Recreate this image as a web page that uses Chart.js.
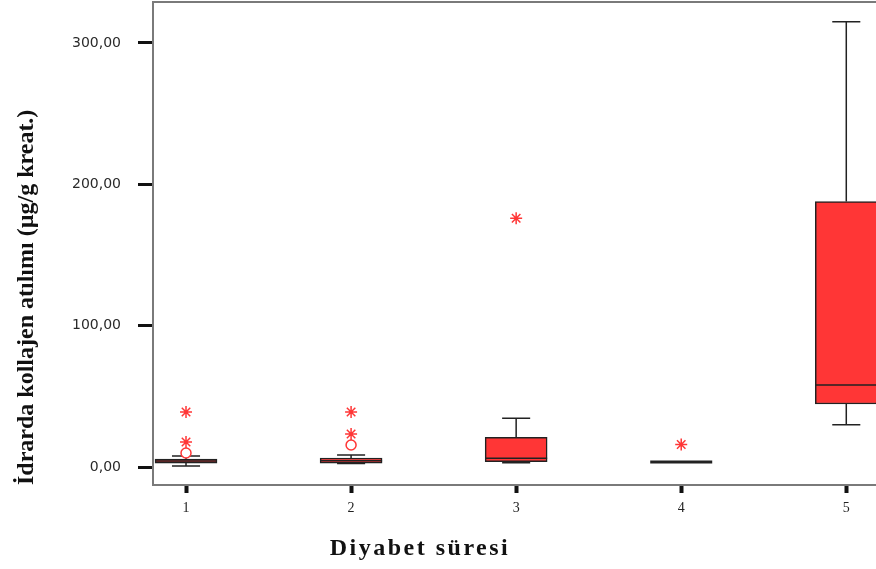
<!DOCTYPE html>
<html lang="tr">
<head>
    <meta charset="UTF-8">
    <title>Diyabet süresi - İdrarda kollajen atılımı</title>
    <script src="https://cdn.jsdelivr.net/npm/chart.js"></script>
    <style>
        body { margin: 0; background: #fff; }
        #wrap { width: 876px; height: 569px; }
    </style>
</head>
<body>
<div id="wrap"><canvas id="boxChart" width="876" height="569"></canvas></div>
<script>
    // Diyabet süresi grupları
    var categories = [1, 2, 3, 4, 5];
    // kutu grafiği değerleri (µg/g kreat.)
    var whiskerLow  = [0.7, 2.5, 3.0, 3.5, 30];
    var q1          = [2.8, 2.8, 3.8, 3.5, 44.6];
    var median      = [4.2, 4.5, 6.2, 3.5, 58];
    var q3          = [5.7, 6.4, 21.0, 3.5, 187.8];
    var whiskerHigh = [7.8, 8.5, 34.5, 3.5, 315];
    // aykırı (o) ve uç (*) değerler
    var outliers = [[9.9], [15.6], [], [], []];
    var extremes = [[17.7, 38.9], [23.4, 38.9], [176], [16], []];
    var yTicks = [0, 100, 200, 300];

    var red = '#ff3636';

    function points(list) {
        var out = [];
        list.forEach(function (vals, i) {
            vals.forEach(function (v) { out.push({ x: categories[i], y: v }); });
        });
        return out;
    }

    // bıyıklar, medyan çizgileri, çerçeve ve x başlığı
    var boxPlugin = {
        id: 'boxPlugin',
        beforeDatasetsDraw: function (chart) {
            var ctx = chart.ctx, xs = chart.scales.x, ys = chart.scales.y;
            ctx.save();
            ctx.strokeStyle = '#222';
            ctx.lineWidth = 1.5;
            categories.forEach(function (c, i) {
                var x = xs.getPixelForValue(c);
                var cap = xs.getPixelForValue(c + 0.085) - x;
                [[q3[i], whiskerHigh[i]], [q1[i], whiskerLow[i]]].forEach(function (p) {
                    if (p[0] === p[1]) return;
                    var y0 = ys.getPixelForValue(p[0]), y1 = ys.getPixelForValue(p[1]);
                    ctx.beginPath();
                    ctx.moveTo(x, y0); ctx.lineTo(x, y1);
                    ctx.moveTo(x - cap, y1); ctx.lineTo(x + cap, y1);
                    ctx.stroke();
                });
            });
            ctx.restore();
        },
        afterDatasetsDraw: function (chart) {
            var ctx = chart.ctx, xs = chart.scales.x, ys = chart.scales.y;
            var bars = chart.getDatasetMeta(0).data;
            ctx.save();
            ctx.strokeStyle = '#222';
            categories.forEach(function (c, i) {
                var x = xs.getPixelForValue(c), w = bars[i].width / 2;
                var y = ys.getPixelForValue(median[i]);
                ctx.lineWidth = q1[i] === q3[i] ? 3 : 1.5;
                ctx.beginPath();
                ctx.moveTo(x - w, y); ctx.lineTo(x + w, y);
                ctx.stroke();
            });
            ctx.restore();
        },
        afterDraw: function (chart) {
            var ctx = chart.ctx, a = chart.chartArea;
            ctx.save();
            ctx.strokeStyle = '#7a7a7a';
            ctx.lineWidth = 2;
            ctx.beginPath();
            ctx.moveTo(a.left, a.top); ctx.lineTo(a.right, a.top);
            ctx.stroke();
            // x ekseni başlığı
            ctx.fillStyle = '#111';
            ctx.font = 'bold 24px "Liberation Serif", "Times New Roman", serif';
            ctx.letterSpacing = '2.5px';
            ctx.textAlign = 'center';
            ctx.textBaseline = 'middle';
            ctx.fillText('Diyabet süresi', 420, 549);
            ctx.restore();
        }
    };

    var ctx = document.getElementById('boxChart').getContext('2d');
    var chart = new Chart(ctx, {
        type: 'bar',
        data: {
            datasets: [{
                label: 'Kutu',
                data: categories.map(function (c, i) { return { x: c, y: [q1[i], q3[i]] }; }),
                backgroundColor: red,
                borderColor: '#222',
                borderWidth: 1.5,
                borderSkipped: false,
                barThickness: 62
            }, {
                type: 'scatter',
                label: 'Aykırı',
                data: points(outliers),
                pointStyle: 'circle',
                radius: 5,
                borderWidth: 1.5,
                borderColor: red,
                backgroundColor: '#fff'
            }, {
                type: 'scatter',
                label: 'Uç',
                data: points(extremes),
                pointStyle: 'star',
                radius: 6,
                borderWidth: 1.5,
                borderColor: red,
                backgroundColor: red
            }]
        },
        options: {
            responsive: false,
            animation: false,
            layout: { autoPadding: false, padding: { top: 2, left: 0, right: 0, bottom: 0 } },
            plugins: {
                legend: { display: false },
                tooltip: { enabled: false }
            },
            scales: {
                x: {
                    type: 'linear',
                    offset: false,
                    min: 0.8,
                    max: 5.18,
                    afterBuildTicks: function (s) { s.ticks = categories.map(function (v) { return { value: v }; }); },
                    afterFit: function (s) { s.height = 84; s.paddingLeft = 0; s.paddingRight = 0; },
                    ticks: {
                        color: '#222',
                        padding: 7,
                        font: { family: '"Liberation Serif", serif', size: 14 }
                    },
                    grid: { offset: false, drawOnChartArea: false, tickLength: 8, tickWidth: 4, tickColor: '#111' },
                    border: { color: '#7a7a7a', width: 2 }
                },
                y: {
                    min: -12.7,
                    max: 329,
                    afterBuildTicks: function (s) { s.ticks = yTicks.map(function (v) { return { value: v }; }); },
                    afterFit: function (s) { s.width = 153; s.paddingTop = 0; s.paddingBottom = 0; },
                    ticks: {
                        color: '#2a2a2a',
                        padding: 17,
                        font: { family: '"DejaVu Sans", sans-serif', size: 14 },
                        callback: function (v) { return v.toFixed(2).replace('.', ','); }
                    },
                    grid: { drawOnChartArea: false, tickLength: 15, tickWidth: 3, tickColor: '#111' },
                    border: { color: '#7a7a7a', width: 2 },
                    title: {
                        display: true,
                        align: 'start',
                        text: 'İdrarda kollajen atılımı (µg/g kreat.)',
                        color: '#111',
                        padding: { top: 12, bottom: 0 },
                        font: { family: '"Liberation Serif", serif', size: 24, weight: 'bold' }
                    }
                }
            }
        },
        plugins: [boxPlugin]
    });
</script>
</body>
</html>
